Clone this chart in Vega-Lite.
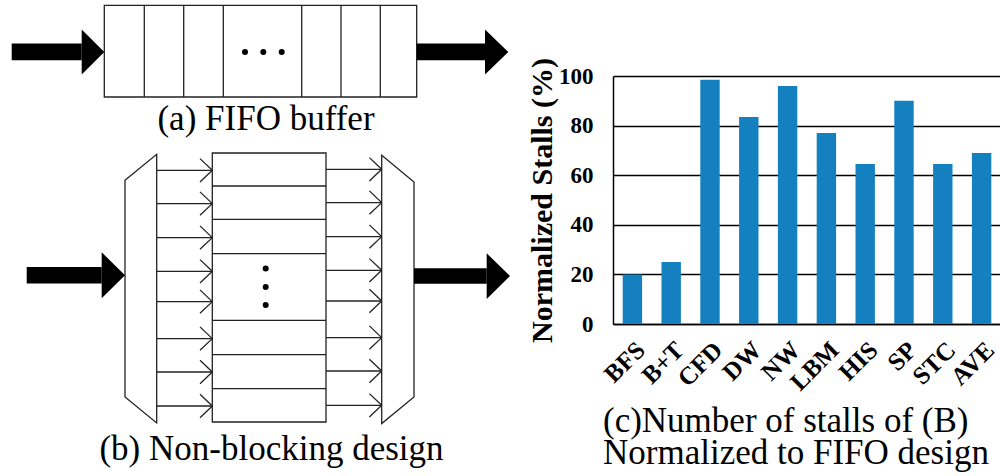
{
  "$schema": "https://vega.github.io/schema/vega-lite/v6.json",
  "padding": 0,
  "autosize": {"type": "pad"},
  "bounds": "flush",
  "spacing": 93,
  "config": {"view": {"stroke": null}, "font": "Liberation Serif"},
  "datasets": {
    "bg": [{"x": 0, "x2": 520, "y": 0, "y2": 476}],
    "boxes": [
      {"x": 104.3, "x2": 416.7, "y": 5, "y2": 96.7},
      {"x": 212.3, "x2": 326, "y": 152.7, "y2": 421.7}
    ],
    "trapezoids": [
      {"id": "left", "x": 125, "y": 180, "y2": 396.7},
      {"id": "left", "x": 156.7, "y": 154, "y2": 422.7},
      {"id": "right", "x": 381.7, "y": 155, "y2": 423.3},
      {"id": "right", "x": 414, "y": 181.7, "y2": 396.7}
    ],
    "shafts": [
      {"x": 11.7, "x2": 81.7, "y": 43.3, "y2": 60},
      {"x": 416.7, "x2": 485, "y": 43.3, "y2": 60},
      {"x": 26.7, "x2": 101.7, "y": 266.7, "y2": 283.3},
      {"x": 414, "x2": 486.7, "y": 268, "y2": 283.5}
    ],
    "heads": [
      {"id": "a-in", "x": 81.7, "y": 29.2, "y2": 74.2},
      {"id": "a-in", "x": 104.3, "y": 51.7, "y2": 51.7},
      {"id": "a-out", "x": 485, "y": 29.2, "y2": 74.2},
      {"id": "a-out", "x": 508.3, "y": 51.7, "y2": 51.7},
      {"id": "b-in", "x": 101.7, "y": 252, "y2": 298},
      {"id": "b-in", "x": 125, "y": 275, "y2": 275},
      {"id": "b-out", "x": 486.7, "y": 253, "y2": 298.6},
      {"id": "b-out", "x": 510, "y": 275.8, "y2": 275.8}
    ],
    "rules": [
      {"x": 144.3, "x2": 144.3, "y": 5, "y2": 96.7},
      {"x": 183.7, "x2": 183.7, "y": 5, "y2": 96.7},
      {"x": 223.3, "x2": 223.3, "y": 5, "y2": 96.7},
      {"x": 301.7, "x2": 301.7, "y": 5, "y2": 96.7},
      {"x": 341, "x2": 341, "y": 5, "y2": 96.7},
      {"x": 380.3, "x2": 380.3, "y": 5, "y2": 96.7},
      {"x": 212.3, "x2": 326, "y": 185.7, "y2": 185.7},
      {"x": 212.3, "x2": 326, "y": 219, "y2": 219},
      {"x": 212.3, "x2": 326, "y": 253.3, "y2": 253.3},
      {"x": 212.3, "x2": 326, "y": 320, "y2": 320},
      {"x": 212.3, "x2": 326, "y": 354.3, "y2": 354.3},
      {"x": 212.3, "x2": 326, "y": 388.3, "y2": 388.3},
      {"x": 156.7, "x2": 212.3, "y": 170, "y2": 170},
      {"x": 156.7, "x2": 212.3, "y": 203.3, "y2": 203.3},
      {"x": 156.7, "x2": 212.3, "y": 237.3, "y2": 237.3},
      {"x": 156.7, "x2": 212.3, "y": 271, "y2": 271},
      {"x": 156.7, "x2": 212.3, "y": 301.3, "y2": 301.3},
      {"x": 156.7, "x2": 212.3, "y": 338.3, "y2": 338.3},
      {"x": 156.7, "x2": 212.3, "y": 371.7, "y2": 371.7},
      {"x": 156.7, "x2": 212.3, "y": 405.7, "y2": 405.7},
      {"x": 326, "x2": 381.7, "y": 169, "y2": 169},
      {"x": 326, "x2": 381.7, "y": 202.3, "y2": 202.3},
      {"x": 326, "x2": 381.7, "y": 236.3, "y2": 236.3},
      {"x": 326, "x2": 381.7, "y": 270, "y2": 270},
      {"x": 326, "x2": 381.7, "y": 300.7, "y2": 300.7},
      {"x": 326, "x2": 381.7, "y": 337.3, "y2": 337.3},
      {"x": 326, "x2": 381.7, "y": 370.7, "y2": 370.7},
      {"x": 326, "x2": 381.7, "y": 405, "y2": 405},
      {"x": 200, "x2": 212.3, "y": 158.3, "y2": 170},
      {"x": 200, "x2": 212.3, "y": 181.7, "y2": 170},
      {"x": 200, "x2": 212.3, "y": 191.6, "y2": 203.3},
      {"x": 200, "x2": 212.3, "y": 215, "y2": 203.3},
      {"x": 200, "x2": 212.3, "y": 225.6, "y2": 237.3},
      {"x": 200, "x2": 212.3, "y": 249, "y2": 237.3},
      {"x": 200, "x2": 212.3, "y": 259.3, "y2": 271},
      {"x": 200, "x2": 212.3, "y": 282.7, "y2": 271},
      {"x": 200, "x2": 212.3, "y": 289.6, "y2": 301.3},
      {"x": 200, "x2": 212.3, "y": 313, "y2": 301.3},
      {"x": 200, "x2": 212.3, "y": 326.6, "y2": 338.3},
      {"x": 200, "x2": 212.3, "y": 350, "y2": 338.3},
      {"x": 200, "x2": 212.3, "y": 360, "y2": 371.7},
      {"x": 200, "x2": 212.3, "y": 383.4, "y2": 371.7},
      {"x": 200, "x2": 212.3, "y": 394, "y2": 405.7},
      {"x": 200, "x2": 212.3, "y": 417.4, "y2": 405.7},
      {"x": 369.4, "x2": 381.7, "y": 157.3, "y2": 169},
      {"x": 369.4, "x2": 381.7, "y": 180.7, "y2": 169},
      {"x": 369.4, "x2": 381.7, "y": 190.6, "y2": 202.3},
      {"x": 369.4, "x2": 381.7, "y": 214, "y2": 202.3},
      {"x": 369.4, "x2": 381.7, "y": 224.6, "y2": 236.3},
      {"x": 369.4, "x2": 381.7, "y": 248, "y2": 236.3},
      {"x": 369.4, "x2": 381.7, "y": 258.3, "y2": 270},
      {"x": 369.4, "x2": 381.7, "y": 281.7, "y2": 270},
      {"x": 369.4, "x2": 381.7, "y": 289, "y2": 300.7},
      {"x": 369.4, "x2": 381.7, "y": 312.4, "y2": 300.7},
      {"x": 369.4, "x2": 381.7, "y": 325.6, "y2": 337.3},
      {"x": 369.4, "x2": 381.7, "y": 349, "y2": 337.3},
      {"x": 369.4, "x2": 381.7, "y": 359, "y2": 370.7},
      {"x": 369.4, "x2": 381.7, "y": 382.4, "y2": 370.7},
      {"x": 369.4, "x2": 381.7, "y": 393.3, "y2": 405},
      {"x": 369.4, "x2": 381.7, "y": 416.7, "y2": 405}
    ],
    "dots": [
      {"x": 245, "y": 51.7},
      {"x": 263.3, "y": 51.7},
      {"x": 281.7, "y": 51.7},
      {"x": 265.7, "y": 268.3},
      {"x": 265.7, "y": 286.7},
      {"x": 265.7, "y": 304.7}
    ],
    "captions": [
      {"x": 266, "y": 130, "label": "(a) FIFO buffer"},
      {"x": 271.5, "y": 460, "label": "(b) Non-blocking design"}
    ],
    "bars": [
      {"bench": "BFS", "stalls": 20},
      {"bench": "B+T", "stalls": 25},
      {"bench": "CFD", "stalls": 98.5},
      {"bench": "DW", "stalls": 83.5},
      {"bench": "NW", "stalls": 96},
      {"bench": "LBM", "stalls": 77},
      {"bench": "HIS", "stalls": 64.5},
      {"bench": "SP", "stalls": 90},
      {"bench": "STC", "stalls": 64.5},
      {"bench": "AVE", "stalls": 69}
    ]
  },
  "hconcat": [
    {
      "width": 520,
      "height": 248,
      "encoding": {
        "x": {"field": "x", "type": "quantitative", "scale": {"domain": [0, 520], "nice": false, "zero": false}, "axis": null},
        "y": {"field": "y", "type": "quantitative", "scale": {"domain": [323.7, 75.7], "nice": false, "zero": false}, "axis": null}
      },
      "layer": [
        {
          "data": {"name": "bg"},
          "mark": {"type": "rect", "fill": "#ffffff", "strokeWidth": 0},
          "encoding": {"x2": {"field": "x2"}, "y2": {"field": "y2"}}
        },
        {
          "data": {"name": "trapezoids"},
          "mark": {"type": "area", "fill": "#ffffff", "stroke": "#222222", "strokeWidth": 1.3, "opacity": 1},
          "encoding": {"y2": {"field": "y2"}, "detail": {"field": "id"}}
        },
        {
          "data": {"name": "boxes"},
          "mark": {"type": "rect", "fill": "#ffffff", "stroke": "#222222", "strokeWidth": 1.3},
          "encoding": {"x2": {"field": "x2"}, "y2": {"field": "y2"}}
        },
        {
          "data": {"name": "rules"},
          "mark": {"type": "rule", "color": "#222222", "strokeWidth": 1.3},
          "encoding": {"x2": {"field": "x2"}, "y2": {"field": "y2"}}
        },
        {
          "data": {"name": "shafts"},
          "mark": {"type": "rect", "fill": "#000000", "strokeWidth": 0},
          "encoding": {"x2": {"field": "x2"}, "y2": {"field": "y2"}}
        },
        {
          "data": {"name": "heads"},
          "mark": {"type": "area", "fill": "#000000", "opacity": 1},
          "encoding": {"y2": {"field": "y2"}, "detail": {"field": "id"}}
        },
        {
          "data": {"name": "dots"},
          "mark": {"type": "circle", "size": 36, "color": "#000000", "opacity": 1}
        },
        {
          "data": {"name": "captions"},
          "mark": {"type": "text", "font": "Liberation Serif", "fontSize": 35, "align": "center", "baseline": "alphabetic", "color": "#000000"},
          "encoding": {"text": {"field": "label"}}
        }
      ]
    },
    {
      "width": 388,
      "height": 248,
      "data": {"name": "bars"},
      "title": {
        "text": ["(c)Number of stalls of (B)", "Normalized to FIFO design"],
        "orient": "bottom",
        "anchor": "start",
        "frame": "group",
        "align": "left",
        "font": "Liberation Serif",
        "fontSize": 35,
        "fontWeight": "normal",
        "color": "#000000",
        "lineHeight": 32,
        "offset": 9,
        "dx": -10
      },
      "mark": {"type": "bar", "color": "#1580c0"},
      "encoding": {
        "x": {
          "field": "bench", "type": "nominal", "sort": null,
          "scale": {"paddingInner": 0.5, "paddingOuter": 0.25},
          "axis": {"title": null, "labelAngle": -45, "labelFont": "Liberation Serif", "labelFontWeight": "bold", "labelFontSize": 25, "labelColor": "#000000", "ticks": false, "domainColor": "#000000", "domainWidth": 1.5, "labelPadding": 13}
        },
        "y": {
          "field": "stalls", "type": "quantitative",
          "scale": {"domain": [0, 100], "nice": false},
          "axis": {"title": "Normalized Stalls (%)", "titleFont": "Liberation Serif", "titleFontSize": 30, "titleFontWeight": "bold", "titleColor": "#000000", "titlePadding": 1, "values": [0, 20, 40, 60, 80, 100], "labelFont": "Liberation Serif", "labelFontSize": 23, "labelFontWeight": "bold", "labelColor": "#000000", "labelPadding": 20, "ticks": false, "grid": true, "gridColor": "#000000", "gridWidth": 1.5, "gridOpacity": 1, "domainColor": "#000000", "domainWidth": 1.5}
        }
      }
    }
  ]
}
